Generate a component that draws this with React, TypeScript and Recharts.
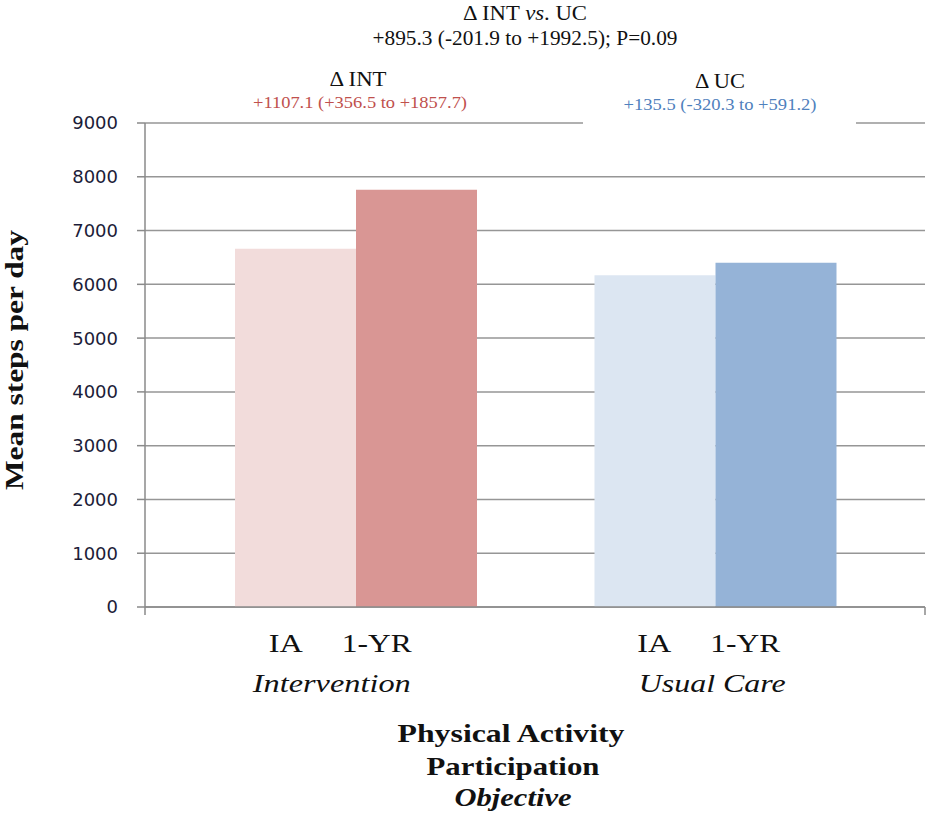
import React from "react";
import { BarChart, Bar, Cell, XAxis, YAxis, CartesianGrid } from "recharts";

// Mean steps per day, initial assessment vs. one year
const groups = ["Intervention", "Usual Care"];
const iaSteps = [6660, 6170];
const yearSteps = [7760, 6400];
const phaseLabels = ["IA", "1-YR"];
const yTicks = [0, 1000, 2000, 3000, 4000, 5000, 6000, 7000, 8000, 9000];

const iaColors = ["#F2DCDB", "#DCE6F2"];
const yearColors = ["#D99694", "#95B3D7"];

const data = groups.map((g, i) => ({ group: g, ia: iaSteps[i], yr: yearSteps[i] }));

const serif = "Liberation Serif, Times New Roman, DejaVu Serif, serif";
const serifStyle = { fontFamily: serif };
const axisGray = "#8a8a8a";

// label placement under each group: [IA dx, 1-YR dx, group dx], plus widths
const tickLayout = [
  { ia: -70, yr: 21, name: -24, nameLen: 158 },
  { ia: -61, yr: 30, name: -3, nameLen: 147 },
];

function GroupTick(props: any) {
  const { x, y, payload, index } = props;
  const l = tickLayout[index] || tickLayout[0];
  return (
    <g fill="#111">
      <text x={x + l.ia} y={y + 37} style={serifStyle} fontSize={25} textAnchor="middle" textLength={34} lengthAdjust="spacingAndGlyphs">
        {phaseLabels[0]}
      </text>
      <text x={x + l.yr} y={y + 37} style={serifStyle} fontSize={25} textAnchor="middle" textLength={70} lengthAdjust="spacingAndGlyphs">
        {phaseLabels[1]}
      </text>
      <text x={x + l.name} y={y + 77} style={serifStyle} fontSize={25} fontStyle="italic" textAnchor="middle" textLength={l.nameLen} lengthAdjust="spacingAndGlyphs">
        {payload.value}
      </text>
    </g>
  );
}

function Label(props: any) {
  const { children, ...rest } = props;
  return (
    <text textAnchor="middle" fill="#111" lengthAdjust="spacingAndGlyphs" style={serifStyle} {...rest}>
      {children}
    </text>
  );
}

function Annotations() {
  return (
    <g>
      {/* box behind the usual-care delta hides the top gridline */}
      <rect x={583} y={64} width={273} height={62} fill="#fff" />
      <line x1={145} y1={607} x2={145} y2={615} stroke={axisGray} strokeWidth={1.5} />
      <line x1={925} y1={607} x2={925} y2={615} stroke={axisGray} strokeWidth={1.5} />

      <Label x={525} y={20} fontSize={21} textLength={124}>
        Δ INT <tspan fontStyle="italic">vs</tspan>. UC
      </Label>
      <Label x={525} y={45} fontSize={20} textLength={305}>
        +895.3 (-201.9 to +1992.5); P=0.09
      </Label>

      <Label x={358} y={86} fontSize={21} textLength={57}>
        Δ INT
      </Label>
      <Label x={360} y={108} fontSize={16} fill="#C0504D" textLength={214}>
        +1107.1 (+356.5 to +1857.7)
      </Label>

      <Label x={720} y={88} fontSize={21} textLength={50}>
        Δ UC
      </Label>
      <Label x={720} y={110} fontSize={16} fill="#4F81BD" textLength={193}>
        +135.5 (-320.3 to +591.2)
      </Label>

      <Label transform="translate(23, 360) rotate(-90)" fontSize={26} fontWeight="bold" textLength={260}>
        Mean steps per day
      </Label>

      <Label x={511} y={742} fontSize={26} fontWeight="bold" textLength={227}>
        Physical Activity
      </Label>
      <Label x={513} y={775} fontSize={26} fontWeight="bold" textLength={173}>
        Participation
      </Label>
      <Label x={513} y={806} fontSize={25} fontWeight="bold" fontStyle="italic" textLength={117}>
        Objective
      </Label>
    </g>
  );
}

export default function App() {
  return (
    <div style={{ width: 927, height: 820, background: "#fff" }}>
      <style>{"body{margin:0}"}</style>
      <BarChart
        width={927}
        height={820}
        data={data}
        margin={{ top: 123, right: 2, left: 65, bottom: 103 }}
        barCategoryGap={59}
        barGap={0}
      >
        <CartesianGrid vertical={false} stroke="#969696" strokeWidth={1.5} />
        <XAxis
          dataKey="group"
          height={110}
          padding={{ left: 31, right: 30 }}
          axisLine={{ stroke: axisGray, strokeWidth: 1.5 }}
          tickLine={false}
          tick={<GroupTick />}
          interval={0}
        />
        <YAxis
          width={80}
          domain={[0, 9000]}
          ticks={yTicks}
          interval={0}
          tickSize={8}
          tickMargin={19}
          axisLine={{ stroke: axisGray, strokeWidth: 1.5 }}
          tickLine={{ stroke: axisGray, strokeWidth: 1.5 }}
          tick={{ fontFamily: "DejaVu Sans, sans-serif", fontSize: 18, fill: "#1c1c38" }}
        />
        <Bar dataKey="ia" isAnimationActive={false}>
          {data.map((_, i) => (
            <Cell key={i} fill={iaColors[i]} />
          ))}
        </Bar>
        <Bar dataKey="yr" isAnimationActive={false}>
          {data.map((_, i) => (
            <Cell key={i} fill={yearColors[i]} />
          ))}
        </Bar>
        <Annotations />
      </BarChart>
    </div>
  );
}
